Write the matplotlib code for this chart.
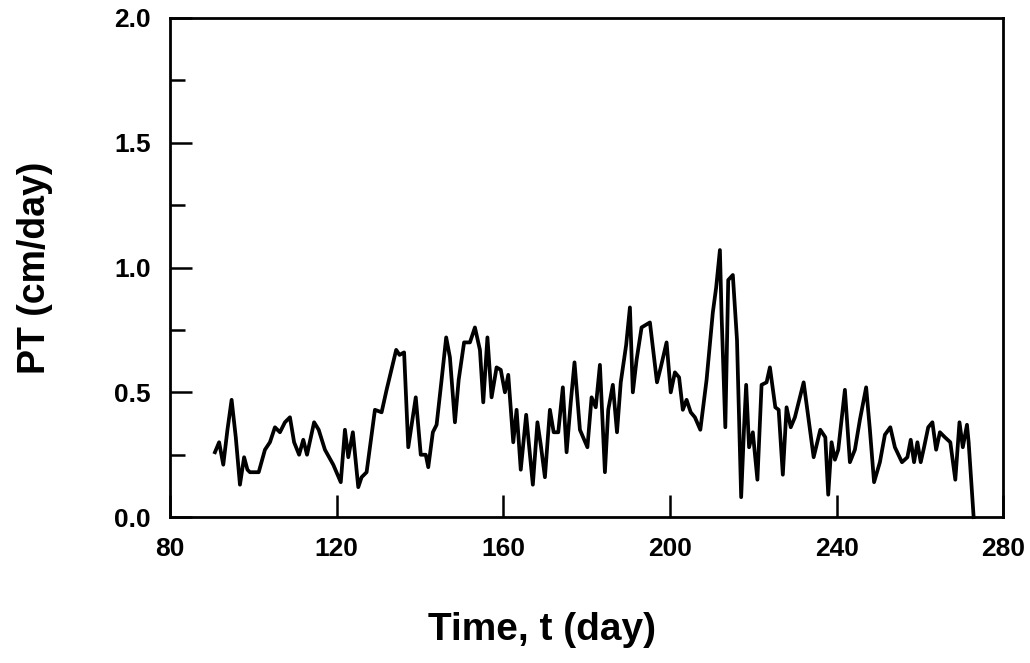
import matplotlib
matplotlib.use('Agg')
import matplotlib.pyplot as plt
from matplotlib.ticker import MultipleLocator

# PT time series
days = [90.8, 91.8, 92.8, 93.8, 94.8, 95.8, 96.8, 97.8, 98.6, 99.2, 101.3, 102.8,
        104.0, 105.2, 106.4, 107.6, 108.8, 109.8, 111.0, 112.0, 112.9, 114.6, 115.7,
        117.2, 119.2, 121.0, 122.0, 122.8, 123.9, 125.2, 126.0, 127.2, 129.2, 130.8,
        132.0, 134.3, 135.1, 136.2, 137.2, 139.0, 140.2, 141.4, 142.0, 143.1, 144.0,
        145.2, 146.3, 147.2, 148.4, 149.3, 150.6, 152.0, 153.2, 154.4, 155.2, 156.2,
        157.2, 158.4, 159.4, 160.4, 161.2, 162.4, 163.2, 164.2, 165.5, 166.0, 167.1,
        168.2, 169.0, 170.0, 171.2, 172.1, 173.2, 174.3, 175.2, 176.2, 177.1, 178.4,
        180.2, 181.2, 182.2, 183.2, 184.4, 185.2, 186.3, 187.3, 188.2, 189.5, 190.4,
        191.1, 192.0, 193.2, 195.2, 196.9, 197.8, 199.2, 200.2, 201.2, 202.2, 203.1,
        204.0, 205.0, 206.0, 207.3, 208.8, 210.3, 211.1, 212.0, 212.4, 213.3, 214.0,
        215.1, 216.1, 217.1, 217.8, 218.3, 219.0, 219.9, 221.0, 222.0, 223.2, 224.0,
        225.3, 226.1, 227.1, 228.0, 229.0, 230.0, 232.1, 233.3, 234.5, 236.1, 237.3,
        238.0, 238.8, 239.6, 240.4, 242.0, 243.2, 244.4, 245.6, 247.1, 248.0, 249.0,
        250.4, 251.6, 252.9, 254.0, 255.7, 257.0, 257.8, 258.6, 259.4, 260.2, 261.0,
        262.0, 263.0, 263.9, 264.8, 266.0, 267.3, 268.5, 269.5, 270.3, 271.3, 271.7,
        272.9]
pt = [0.26, 0.30, 0.21, 0.35, 0.47, 0.32, 0.13, 0.24, 0.19, 0.18, 0.18, 0.27,
      0.30, 0.36, 0.34, 0.38, 0.40, 0.30, 0.25, 0.31, 0.25, 0.38, 0.35,
      0.27, 0.21, 0.14, 0.35, 0.24, 0.34, 0.12, 0.16, 0.18, 0.43, 0.42,
      0.51, 0.67, 0.65, 0.66, 0.28, 0.48, 0.25, 0.25, 0.20, 0.34, 0.37,
      0.55, 0.72, 0.64, 0.38, 0.55, 0.70, 0.70, 0.76, 0.67, 0.46, 0.72,
      0.48, 0.60, 0.59, 0.50, 0.57, 0.30, 0.43, 0.19, 0.41, 0.32, 0.13,
      0.38, 0.29, 0.16, 0.43, 0.34, 0.34, 0.52, 0.26, 0.46, 0.62, 0.35,
      0.28, 0.48, 0.44, 0.61, 0.18, 0.43, 0.53, 0.34, 0.54, 0.69, 0.84,
      0.50, 0.63, 0.76, 0.78, 0.54, 0.60, 0.70, 0.50, 0.58, 0.56, 0.43,
      0.47, 0.42, 0.40, 0.35, 0.55, 0.82, 0.92, 1.07, 0.81, 0.36, 0.95,
      0.97, 0.71, 0.08, 0.36, 0.53, 0.28, 0.34, 0.15, 0.53, 0.54, 0.60,
      0.44, 0.43, 0.17, 0.44, 0.36, 0.40, 0.54, 0.39, 0.24, 0.35, 0.32,
      0.09, 0.30, 0.23, 0.27, 0.51, 0.22, 0.27, 0.39, 0.52, 0.35, 0.14,
      0.22, 0.33, 0.36, 0.28, 0.22, 0.24, 0.31, 0.22, 0.30, 0.22, 0.28,
      0.36, 0.38, 0.27, 0.34, 0.32, 0.30, 0.15, 0.38, 0.28, 0.37, 0.30,
      0.0]

plt.rcParams['font.family'] = ['Liberation Sans', 'DejaVu Sans']
plt.rcParams['font.weight'] = 'bold'

fig = plt.figure(figsize=(10.3, 6.63), dpi=100)
ax = fig.add_axes([0.165, 0.220, 0.809, 0.753])

ax.plot(days, pt, color='black', linewidth=2.7, clip_on=False,
        solid_joinstyle='round')

ax.set_xlim(80, 280)
ax.set_ylim(0, 2.0)
ax.xaxis.set_major_locator(MultipleLocator(40))
ax.yaxis.set_major_locator(MultipleLocator(0.5))
ax.yaxis.set_minor_locator(MultipleLocator(0.25))
ax.yaxis.set_major_formatter(plt.FormatStrFormatter('%.1f'))

ax.tick_params(axis='both', which='both', direction='in', top=False, right=False,
               labelsize=19, width=1.8)
ax.tick_params(axis='x', which='major', length=16, pad=14)
ax.tick_params(axis='y', which='major', length=16, pad=14)
ax.tick_params(axis='y', which='minor', length=11)
for s in ax.spines.values():
    s.set_linewidth(2.0)

ax.set_xlabel('Time, t (day)', fontsize=28, fontweight='bold')
ax.set_ylabel('PT (cm/day)', fontsize=27, fontweight='bold')
ax.xaxis.set_label_coords(0.447, -0.19)
ax.yaxis.set_label_coords(-0.14, 0.5)

fig.savefig('out.png', dpi=100)
